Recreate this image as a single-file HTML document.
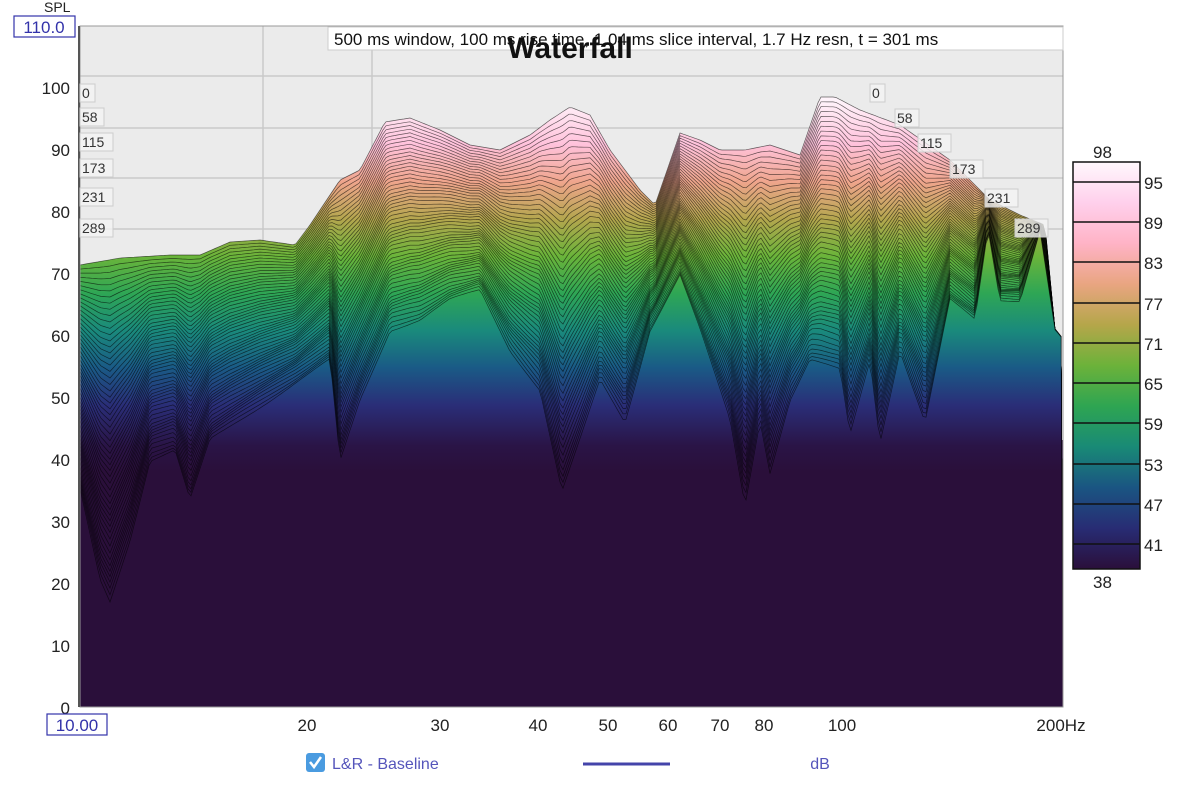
<!DOCTYPE html>
<html><head><meta charset="utf-8"><style>
body{margin:0;background:#fff;font-family:"Liberation Sans",sans-serif;}
svg text{font-family:"Liberation Sans",sans-serif;}
</style></head><body>
<svg id="s" width="1200" height="788" xmlns="http://www.w3.org/2000/svg">
<defs>
<linearGradient id="cm" gradientUnits="userSpaceOnUse" x1="0" y1="100" x2="0" y2="472">
<stop offset="0" stop-color="#fff4fb"/>
<stop offset="0.12" stop-color="#ffc2db"/>
<stop offset="0.22" stop-color="#efa58c"/>
<stop offset="0.32" stop-color="#b4a64e"/>
<stop offset="0.42" stop-color="#6ab43a"/>
<stop offset="0.52" stop-color="#2ea655"/>
<stop offset="0.62" stop-color="#1a8a7c"/>
<stop offset="0.72" stop-color="#1a5a86"/>
<stop offset="0.82" stop-color="#2a2e78"/>
<stop offset="0.93" stop-color="#2a1446"/>
<stop offset="1" stop-color="#2a0f3a"/>
</linearGradient>
<linearGradient id="cb" x1="0" y1="0" x2="0" y2="1">
<stop offset="0" stop-color="#fff8fd"/>
<stop offset="0.1" stop-color="#ffd0ec"/>
<stop offset="0.2" stop-color="#ffb3c6"/>
<stop offset="0.3" stop-color="#e9a581"/>
<stop offset="0.4" stop-color="#b5a64a"/>
<stop offset="0.5" stop-color="#6cb23a"/>
<stop offset="0.6" stop-color="#2ea552"/>
<stop offset="0.7" stop-color="#198a76"/>
<stop offset="0.8" stop-color="#1a5582"/>
<stop offset="0.9" stop-color="#282c74"/>
<stop offset="1" stop-color="#2a0f3a"/>
</linearGradient>
<clipPath id="pc"><rect x="80" y="26" width="983" height="681"/></clipPath>
</defs>
<rect x="80" y="26" width="983" height="681" fill="#ebebeb"/>
<g stroke="#c9c9c9" stroke-width="1.5">
<line x1="263" y1="26" x2="263" y2="707"/><line x1="372" y1="26" x2="372" y2="707"/>
<line x1="80" y1="76" x2="1063" y2="76"/><line x1="80" y1="128" x2="1063" y2="128"/>
<line x1="80" y1="178" x2="1063" y2="178"/><line x1="80" y1="229" x2="1063" y2="229"/>
</g>
<g id="wf" clip-path="url(#pc)"></g>
<rect x="80" y="26" width="983" height="681" fill="none" stroke="#999" stroke-width="1"/>
<line x1="79" y1="26" x2="79" y2="707" stroke="#555" stroke-width="2"/>
<rect x="328" y="27" width="735" height="23" fill="#fff" stroke="#ccc"/>
<text x="334" y="45" font-size="17" fill="#111">500 ms window, 100 ms rise time, 1.04 ms slice interval, 1.7 Hz resn, t = 301 ms</text>
<text x="570" y="58" font-size="30" font-weight="bold" text-anchor="middle" fill="#111">Waterfall</text>
<g font-size="14" fill="#333" id="sl"></g>
<g font-size="17" fill="#222" text-anchor="end">
<text x="70" y="94">100</text><text x="70" y="156">90</text><text x="70" y="218">80</text>
<text x="70" y="280">70</text><text x="70" y="342">60</text><text x="70" y="404">50</text>
<text x="70" y="466">40</text><text x="70" y="528">30</text><text x="70" y="590">20</text>
<text x="70" y="652">10</text><text x="70" y="714">0</text>
</g>
<text x="44" y="12" font-size="14" fill="#222">SPL</text>
<rect x="14" y="16" width="61" height="21" fill="#fff" stroke="#33a" stroke-width="1.2"/>
<text x="44" y="33" font-size="17" fill="#33a" text-anchor="middle">110.0</text>
<rect x="47" y="714" width="60" height="21" fill="#fff" stroke="#33a" stroke-width="1.2"/>
<text x="77" y="731" font-size="17" fill="#33a" text-anchor="middle">10.00</text>
<g font-size="17" fill="#222" text-anchor="middle">
<text x="307" y="731">20</text><text x="440" y="731">30</text><text x="538" y="731">40</text>
<text x="608" y="731">50</text><text x="668" y="731">60</text><text x="720" y="731">70</text>
<text x="764" y="731">80</text><text x="842" y="731">100</text><text x="1061" y="731">200Hz</text>
</g>
<rect x="306" y="753" width="19" height="19" rx="3" fill="#4a9be0"/>
<path d="M310 762 l4 5 l7 -10" stroke="#fff" stroke-width="2.5" fill="none"/>
<text x="332" y="769" font-size="16" fill="#5555bb">L&amp;R - Baseline</text>
<line x1="583" y1="764" x2="670" y2="764" stroke="#4444aa" stroke-width="3"/>
<text x="820" y="769" font-size="16" fill="#5555bb" text-anchor="middle">dB</text>
<rect x="1073" y="162" width="67" height="407" fill="url(#cb)" stroke="#111" stroke-width="1.5"/>
<g stroke="#111" stroke-width="1.5">
<line x1="1073" y1="182" x2="1140" y2="182"/><line x1="1073" y1="222" x2="1140" y2="222"/>
<line x1="1073" y1="262" x2="1140" y2="262"/><line x1="1073" y1="303" x2="1140" y2="303"/>
<line x1="1073" y1="343" x2="1140" y2="343"/><line x1="1073" y1="383" x2="1140" y2="383"/>
<line x1="1073" y1="423" x2="1140" y2="423"/><line x1="1073" y1="464" x2="1140" y2="464"/>
<line x1="1073" y1="504" x2="1140" y2="504"/><line x1="1073" y1="544" x2="1140" y2="544"/>
</g>
<g font-size="17" fill="#222">
<text x="1093" y="158">98</text><text x="1093" y="588">38</text>
<text x="1144" y="189">95</text><text x="1144" y="229">89</text><text x="1144" y="269">83</text>
<text x="1144" y="310">77</text><text x="1144" y="350">71</text><text x="1144" y="390">65</text>
<text x="1144" y="430">59</text><text x="1144" y="471">53</text><text x="1144" y="511">47</text>
<text x="1144" y="551">41</text>
</g>
</svg>
<script>
var back=[[80,265],[120,258],[170,255],[200,255],[230,242],[260,240],[295,245],[310,225],[340,180],[360,170],[385,122],[410,118],[440,130],[470,145],[500,150],[530,135],[550,120],[570,107],[590,115],[610,150],[640,190],[655,205],[680,133],[700,140],[720,150],[745,150],[770,145],[800,155],[820,97],[835,97],[860,110],[900,125],[950,160],[990,200],[1020,215],[1045,225],[1055,330],[1063,340]];
var front=[[80,490],[100,580],[110,602],[130,540],[150,460],[175,450],[190,500],[210,440],[240,420],[270,400],[300,380],[330,360],[340,462],[360,400],[390,330],[420,320],[450,300],[480,290],[510,350],[540,390],[562,492],[580,440],[600,380],[625,422],[650,330],[680,275],[700,330],[730,420],[745,505],[760,420],[770,472],[790,400],[810,360],[840,370],[850,435],[870,360],[880,442],[900,350],[925,422],[950,300],[975,320],[988,230],[1000,300],[1020,300],[1040,230],[1055,330],[1063,340]];
function interp(c,x){for(var i=0;i<c.length-1;i++){if(x>=c[i][0]&&x<=c[i+1][0]){var t=(x-c[i][0])/(c[i+1][0]-c[i][0]);return c[i][1]+t*(c[i+1][1]-c[i][1]);}}return c[c.length-1][1];}
var g=document.getElementById('wf');
var N=55,h='<rect x="80" y="440" width="983" height="267" fill="#2a0f3a"/>';
for(var k=0;k<=N;k++){var t=k/N;var d="M80 707";
 for(var x=80;x<=1063;x+=3){var y=interp(back,x)*(1-t)+interp(front,x)*t;y+=Math.sin(x*0.05+k*0.7)*1.5*t;d+=" L"+x+" "+y.toFixed(1);}
 d+=" L1063 707Z";
 h+='<path d="'+d+'" fill="url(#cm)" stroke="#000" stroke-width="0.7" stroke-opacity="0.6"/>';}
g.innerHTML=h;
var L=[["0",80,97],["58",80,121],["115",80,146],["173",80,172],["231",80,201],["289",80,232],["0",870,97],["58",895,122],["115",918,147],["173",950,173],["231",985,202],["289",1015,232]];
var s="";L.forEach(function(a){var w=a[0].length*9+6;s+='<rect x="'+a[1]+'" y="'+(a[2]-13)+'" width="'+w+'" height="18" fill="#f4f4f4" fill-opacity="0.8" stroke="#ccc"/><text x="'+(a[1]+2)+'" y="'+(a[2]+1)+'">'+a[0]+'</text>';});
document.getElementById('sl').innerHTML=s;
</script>
</body></html>
